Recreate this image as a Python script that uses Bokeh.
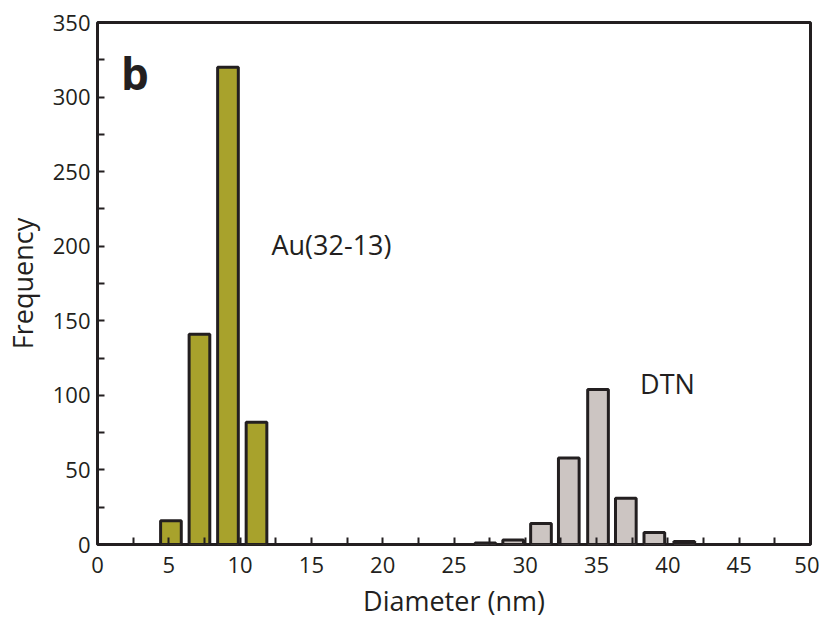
from bokeh.plotting import figure
from bokeh.models import FixedTicker, Range1d, Label
from bokeh.embed import file_html
from bokeh.resources import INLINE

au_centers = [5.15, 7.15, 9.15, 11.15]
au_counts = [16, 141, 320, 82]
dtn_centers = [27.2, 29.15, 31.1, 33.05, 35.1, 37.05, 39.05, 41.15]
dtn_counts = [1, 3, 14, 58, 104, 31, 8, 2]
bar_width = 1.45

x_major = [0, 5, 10, 15, 20, 25, 30, 35, 40, 45, 50]
x_minor = [2.5, 7.5, 12.5, 17.5, 22.5, 27.5, 32.5, 37.5, 42.5, 47.5]
y_major = [0, 50, 100, 150, 200, 250, 300, 350]
y_minor = [25, 75, 125, 175, 225, 275, 325]

FONT = "Open Sans"
INK = "#231f20"

p = figure(width=819, height=621, output_backend="svg", toolbar_location=None,
           x_range=Range1d(0, 50), y_range=Range1d(0, 350),
           min_border_left=97, min_border_right=9, min_border_top=22, min_border_bottom=76)

p.vbar(x=au_centers, top=au_counts, width=bar_width, bottom=0,
       fill_color="#a8a22c", line_color=INK, line_width=3)
p.vbar(x=dtn_centers, top=dtn_counts, width=bar_width, bottom=0,
       fill_color="#ccc5c2", line_color=INK, line_width=3)

p.grid.visible = False
p.outline_line_color = INK
p.outline_line_width = 3
p.outline_line_alpha = 1

for ax, maj, mnr in ((p.xaxis[0], x_major, x_minor), (p.yaxis[0], y_major, y_minor)):
    ax.ticker = FixedTicker(ticks=maj, minor_ticks=mnr)
    ax.major_tick_in = 7
    ax.major_tick_out = 0
    ax.minor_tick_in = 7
    ax.minor_tick_out = 0
    ax.major_tick_line_width = 2
    ax.minor_tick_line_width = 2
    ax.major_tick_line_color = INK
    ax.minor_tick_line_color = INK
    ax.axis_line_color = None
    ax.major_label_text_font = FONT
    ax.major_label_text_font_size = "22px"
    ax.major_label_text_color = INK
    ax.axis_label_text_font = FONT
    ax.axis_label_text_font_size = "27px"
    ax.axis_label_text_font_style = "normal"
    ax.axis_label_text_color = INK

p.xaxis.axis_label = "Diameter (nm)"
p.yaxis.axis_label = "Frequency"
p.xaxis.major_label_standoff = 12
p.yaxis.major_label_standoff = 7
p.xaxis.axis_label_standoff = 6
p.yaxis.axis_label_standoff = 9

p.add_layout(Label(x=1.65, y=316, text="b", text_font=FONT, text_font_size="44px",
                   text_font_style="bold", text_color=INK, text_baseline="alphabetic"))
p.add_layout(Label(x=12.2, y=201, text="Au(32-13)", text_font=FONT, text_font_size="27px",
                   text_color=INK, text_baseline="middle"))
p.add_layout(Label(x=38.05, y=108, text="DTN", text_font=FONT, text_font_size="27px",
                   text_color=INK, text_baseline="middle"))

open("out.html", "w").write(file_html(p, INLINE))
